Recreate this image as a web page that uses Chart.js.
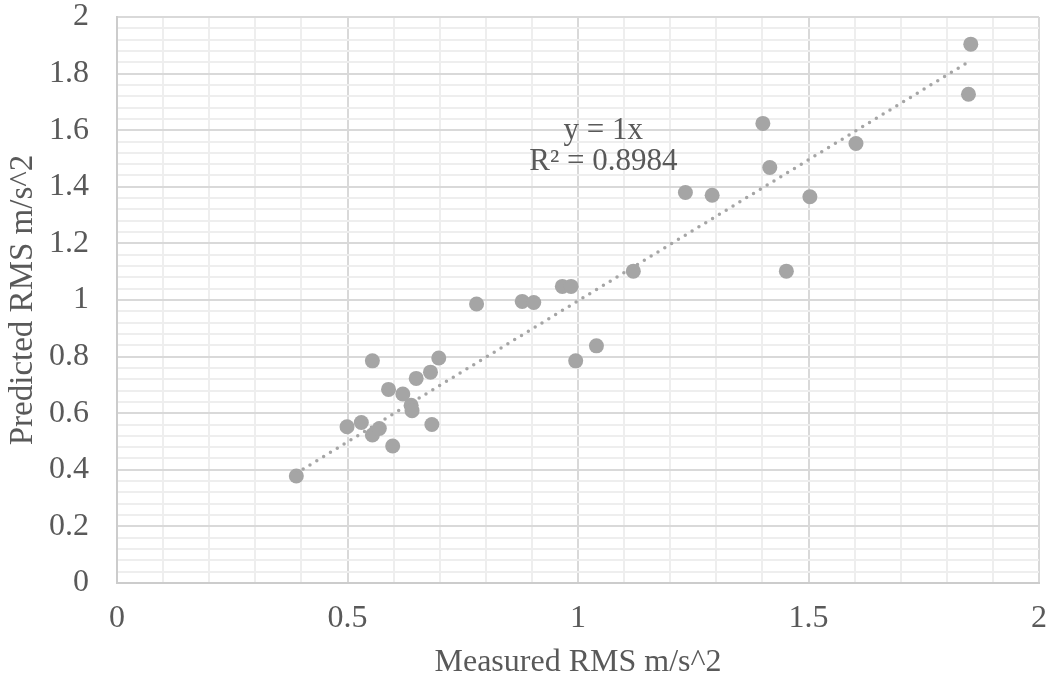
<!DOCTYPE html>
<html>
<head>
<meta charset="utf-8">
<script src="https://cdn.jsdelivr.net/npm/chart.js@4/dist/chart.umd.min.js"></script>
<style>
  html, body { margin: 0; padding: 0; background: #fff; }
  #wrap { width: 1054px; height: 685px; }
</style>
</head>
<body>
<div id="wrap"><canvas id="chart" width="1054" height="685"></canvas></div>
<script>
// measured vs predicted RMS
var measured = [0.389, 0.499, 0.530, 0.554, 0.554, 0.569, 0.598, 0.589, 0.620, 0.649,
  0.680, 0.698, 0.638, 0.640, 0.683, 0.780, 0.879, 0.904, 0.966, 0.985,
  1.120, 1.040, 0.995, 1.233, 1.291, 1.452, 1.852, 1.847, 1.401, 1.416,
  1.603, 1.503];
var predicted = [0.378, 0.552, 0.567, 0.785, 0.523, 0.546, 0.484, 0.684, 0.668, 0.723,
  0.745, 0.795, 0.628, 0.609, 0.560, 0.986, 0.995, 0.991, 1.048, 1.048,
  1.102, 0.838, 0.785, 1.380, 1.370, 1.102, 1.904, 1.727, 1.624, 1.468,
  1.553, 1.365];

// trendline (through origin) and its label
var trendSlope = 0.997;
var trendText = ["y = 1x", "R\u00b2 = 0.8984"];
var trendTextAt = [1.055, 1.546];

var fontFamily = "'Liberation Serif', 'Times New Roman', serif";
var textColor = "#595959";

var points = measured.map(function (x, i) {
  return { x: x, y: predicted[i] };
});
var xMin = Math.min.apply(null, measured);
var xMax = Math.max.apply(null, measured);
var trend = [
  { x: xMin, y: xMin * trendSlope },
  { x: xMax, y: xMax * trendSlope },
];

function isMultiple(v, step) {
  var r = v / step;
  return Math.abs(r - Math.round(r)) < 1e-6;
}

// writes the trendline equation next to the line
var trendLabel = {
  id: "trendLabel",
  afterDatasetsDraw(chart) {
    var c = chart.ctx;
    var px = chart.scales.x.getPixelForValue(trendTextAt[0]);
    var py = chart.scales.y.getPixelForValue(trendTextAt[1]);
    c.save();
    c.font = "31px " + fontFamily;
    c.fillStyle = textColor;
    c.textAlign = "center";
    c.textBaseline = "middle";
    c.fillText(trendText[0], px, py - 15);
    c.fillText(trendText[1], px, py + 16);
    c.restore();
  },
};

var ctx = document.getElementById("chart").getContext("2d");
var myChart = new Chart(ctx, {
  type: "scatter",
  data: {
    datasets: [
      {
        label: "Trend",
        data: trend,
        showLine: true,
        borderColor: "#a5a5a5",
        borderWidth: 3.5,
        borderDash: [0, 8],
        borderCapStyle: "round",
        pointRadius: 0,
        fill: false,
      },
      {
        label: "RMS",
        data: points,
        backgroundColor: "#a5a5a5",
        borderWidth: 0,
        pointRadius: 7.5,
        pointHoverRadius: 7.5,
      },
    ],
  },
  options: {
    responsive: false,
    animation: false,
    layout: {
      padding: { top: 17, right: 15, left: 0, bottom: 0 },
    },
    plugins: {
      legend: { display: false },
      tooltip: { enabled: false },
    },
    scales: {
      x: {
        type: "linear",
        min: 0,
        max: 2,
        afterFit(scale) {
          scale.height = 102;
          scale.paddingLeft = 0;
          scale.paddingRight = 0;
        },
        ticks: {
          stepSize: 0.1,
          autoSkip: false,
          maxRotation: 0,
          padding: 16,
          color: textColor,
          font: { family: fontFamily, size: 32 },
          callback: function (v) {
            return isMultiple(v, 0.5) ? String(Math.round(v * 10) / 10) : "";
          },
        },
        grid: {
          drawTicks: false,
          lineWidth: 2,
          color: function (c) {
            return isMultiple(c.tick.value, 0.5) ? "#d9d9d9" : "#eeeeee";
          },
        },
        border: { color: "#cccccc", width: 2 },
        title: {
          display: true,
          text: "Measured RMS m/s^2",
          color: textColor,
          font: { family: fontFamily, size: 32 },
          padding: { top: 0, bottom: 3 },
        },
      },
      y: {
        type: "linear",
        min: 0,
        max: 2,
        afterFit(scale) {
          scale.width = 117;
          scale.paddingTop = 0;
          scale.paddingBottom = 0;
        },
        ticks: {
          stepSize: 0.04,
          autoSkip: false,
          padding: 28,
          color: textColor,
          font: { family: fontFamily, size: 32 },
          callback: function (v) {
            return isMultiple(v, 0.2) ? String(Math.round(v * 10) / 10) : "";
          },
        },
        grid: {
          drawTicks: false,
          lineWidth: 2,
          color: function (c) {
            return isMultiple(c.tick.value, 0.2) ? "#d9d9d9" : "#eeeeee";
          },
        },
        border: { color: "#cccccc", width: 2 },
        title: {
          display: true,
          text: "Predicted RMS m/s^2",
          color: textColor,
          font: { family: fontFamily, size: 33 },
          padding: { top: 4, bottom: 0 },
        },
      },
    },
  },
  plugins: [trendLabel],
});
</script>
</body>
</html>
